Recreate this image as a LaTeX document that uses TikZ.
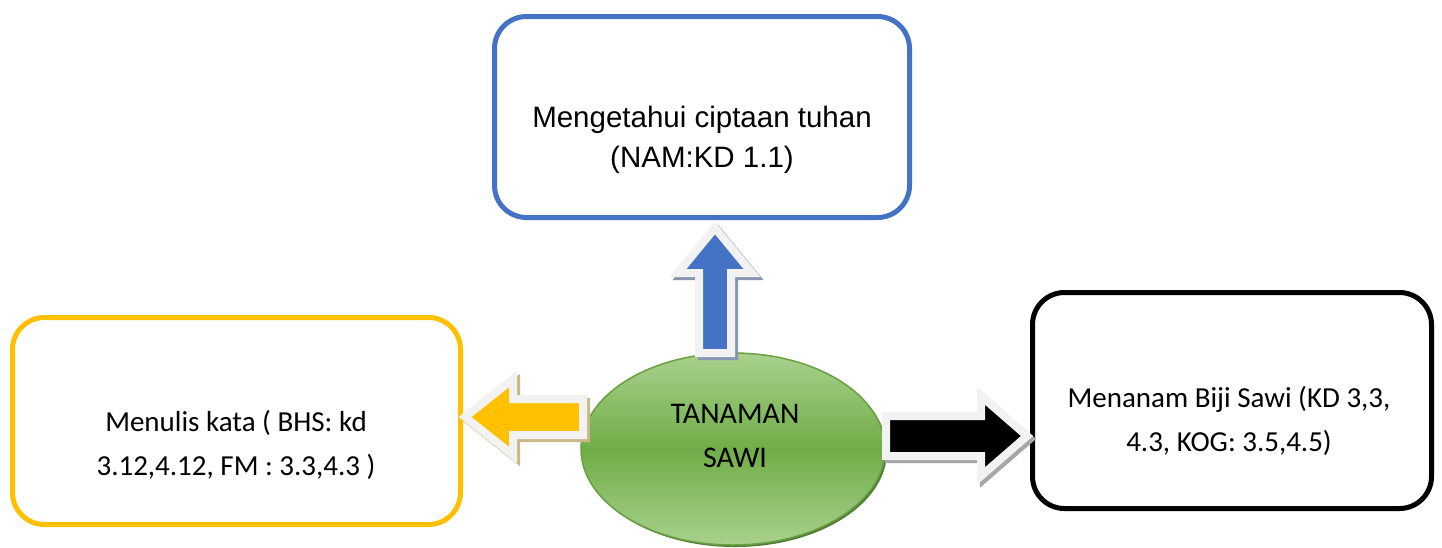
\documentclass[tikz,border=0pt]{standalone}
\usepackage{fontspec}
\setmainfont{Carlito}
\newfontfamily\arialfont{Liberation Sans}
\usetikzlibrary{shapes.geometric}
\definecolor{boxblue}{HTML}{4472C4}
\definecolor{boxgold}{HTML}{FFC000}
\definecolor{lightg}{HTML}{A9D18E}
\definecolor{midg}{HTML}{70AD47}
\definecolor{edgeg}{HTML}{6AA043}
\definecolor{shadg}{HTML}{4E7C30}
\definecolor{outl}{HTML}{F2F2F2}
\definecolor{shblue}{HTML}{8796AE}
\definecolor{shgold}{HTML}{C9B888}
\definecolor{shgray}{HTML}{A6A6A6}
\begin{document}
\begin{tikzpicture}[x=1pt,y=-1pt,
  box/.style={draw, line width=5pt, rounded corners=32pt, inner sep=0pt},
  txt/.style={align=center, font=\fontsize{29}{44}\selectfont, inner sep=0pt},
  arialtxt/.style={align=center, font=\arialfont\fontsize{29.5}{40}\selectfont, inner sep=0pt},
  blockarrow/.style={line width=8pt, draw=outl, line join=miter},
  arrowshadow/.style={line width=8pt, line join=miter}]
\useasboundingbox (0,0) rectangle (1442,547);

% boxes
\node[box, draw=boxblue, minimum width=415pt, minimum height=201pt] (top) at (702,117) {};
\node[box, draw=boxgold, minimum width=448pt, minimum height=207pt] (left) at (236.5,421) {};
\node[box, draw=black, minimum width=399pt, minimum height=216pt] (right) at (1232,400.5) {};

\node[arialtxt] (toptext) at (702,140) {Mengetahui ciptaan tuhan\\(NAM:KD 1.1)};
\node[txt] (lefttext) at (236,445) {Menulis kata ( BHS: kd\\3.12,4.12, FM : 3.3,4.3 )};
\node[txt] (righttext) at (1229,421) {Menanam Biji Sawi (KD 3,3,\\4.3, KOG: 3.5,4.5)};

% ellipse
\fill[shadg] (735,451) ellipse [x radius=152pt, y radius=96pt];
\node[ellipse, draw=edgeg, line width=1.5pt, minimum width=304pt, minimum height=192pt,
      top color=lightg, bottom color=lightg, middle color=midg, inner sep=0pt] (center) at (733,449) {};
\node[txt, font=\fontsize{30}{44}\selectfont] (centertext) at (735,436) {TANAMAN\\SAWI};

% up arrow
\draw[arrowshadow, draw=shblue, fill=shblue, shift={(3,3)}]
  (715,228) -- (752,273) -- (731,273) -- (731,353) -- (699,353) -- (699,273) -- (678,273) -- cycle;
\draw[blockarrow, fill=boxblue]
  (715,228) -- (752,273) -- (731,273) -- (731,353) -- (699,353) -- (699,273) -- (678,273) -- cycle;

% left arrow
\draw[arrowshadow, draw=shgold, fill=shgold, shift={(3,3)}]
  (465,417) -- (513,379) -- (513,399) -- (583,399) -- (583,435) -- (513,435) -- (513,455) -- cycle;
\draw[blockarrow, fill=boxgold]
  (465,417) -- (513,379) -- (513,399) -- (583,399) -- (583,435) -- (513,435) -- (513,455) -- cycle;

% right arrow
\draw[arrowshadow, draw=shgray, fill=shgray, shift={(3,3)}]
  (886,416) -- (981,416) -- (981,396) -- (1027,436) -- (981,476) -- (981,456) -- (886,456) -- cycle;
\draw[blockarrow, fill=black]
  (886,416) -- (981,416) -- (981,396) -- (1027,436) -- (981,476) -- (981,456) -- (886,456) -- cycle;
\end{tikzpicture}
\end{document}
